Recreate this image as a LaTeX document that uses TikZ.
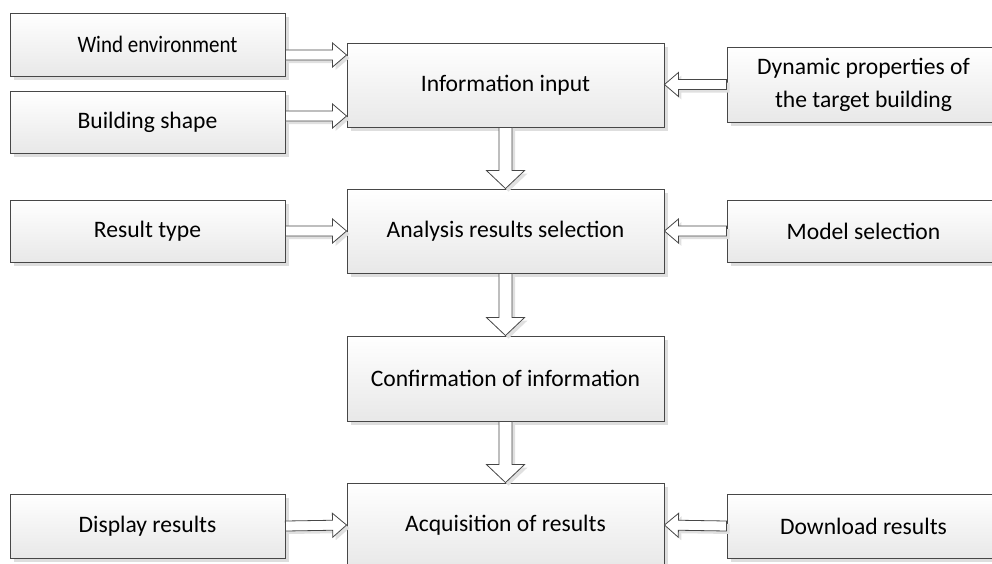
\documentclass[tikz,border=0pt]{standalone}
\usepackage{fontspec}
\setmainfont{Carlito}
\usetikzlibrary{calc,shadows}
\tikzset{
 box/.style={draw=black!72, line width=0.9pt, top color=white, bottom color=black!9,
   drop shadow={shadow xshift=4pt, shadow yshift=-4pt, fill=black!13, opacity=1},
   align=center, font=\fontsize{23.6}{33}\selectfont, inner sep=0pt},
 small/.style={box, minimum width=275pt, minimum height=63pt},
 big/.style={box, minimum width=317pt, minimum height=84pt},
 barrow/.style={draw=black!72, line width=0.8pt, fill=white,
   drop shadow={shadow xshift=3pt, shadow yshift=-3pt, fill=black!12, opacity=1}}
}
\newcommand\barr[5]{%
 \coordinate (hb) at ($(#2)!#5!(#1)$);
 \draw[barrow] ($(#1)!#3!90:(#2)$) -- ($(hb)!#3!-90:(#1)$) -- ($(hb)!#4!-90:(#1)$) -- (#2)
   -- ($(hb)!#4!90:(#1)$) -- ($(hb)!#3!90:(#1)$) -- ($(#1)!#3!-90:(#2)$) -- cycle;}
\begin{document}
\begin{tikzpicture}[x=1pt,y=-1pt]
\path[use as bounding box, clip] (0,0) rectangle (992,563);
% left column
\node[small] (wind) at (147.5,44.5) {\hspace*{20pt}\scalebox{0.89}[1]{Wind environment}};
\node[small, minimum height=62pt] (shape) at (147.5,122) {Building shape};
\node[small, minimum height=62pt] (rtype) at (147.5,231) {Result type};
\node[small, minimum height=64pt] (disp) at (147.5,526) {Display results};
% centre column
\node[big] (info) at (505.5,85) {Information input};
\node[big] (anal) at (505.5,231) {Analysis results selection};
\node[big, minimum height=85pt] (conf) at (505.5,378.5) {Confirmation of information};
\node[big] (acq) at (505.5,525) {Acquisition of results};
% right column
\node[small, minimum width=273pt, minimum height=75pt] (dyn) at (863.5,84.5) {Dynamic properties of\\the target building};
\node[small, minimum width=273pt, minimum height=62pt] (model) at (863.5,231) {Model selection};
\node[small, minimum width=273pt, minimum height=64pt] (down) at (863.5,526) {Download results};
% horizontal connectors
\coordinate (w1) at (wind.east |- 0,55);   \coordinate (w2) at (info.west |- 0,55);
\coordinate (s1) at (shape.east |- 0,116); \coordinate (s2) at (info.west |- 0,116);
\coordinate (d1) at (dyn.west |- 0,84.5);  \coordinate (d2) at (info.east |- 0,84.5);
\barr{w1}{w2}{5pt}{12pt}{14pt}
\barr{s1}{s2}{5pt}{12pt}{14pt}
\barr{d1}{d2}{5pt}{12pt}{14pt}
\barr{rtype.east}{anal.west}{5pt}{12pt}{14pt}
\barr{model.west}{anal.east}{5pt}{12pt}{14pt}
\barr{disp.east}{acq.west}{5pt}{12pt}{14pt}
\barr{down.west}{acq.east}{5pt}{12pt}{14pt}
% vertical connectors
\barr{info.south}{anal.north}{6.5pt}{19pt}{18pt}
\barr{anal.south}{conf.north}{6.5pt}{19pt}{18pt}
\barr{conf.south}{acq.north}{6.5pt}{19pt}{18pt}
\end{tikzpicture}
\end{document}
